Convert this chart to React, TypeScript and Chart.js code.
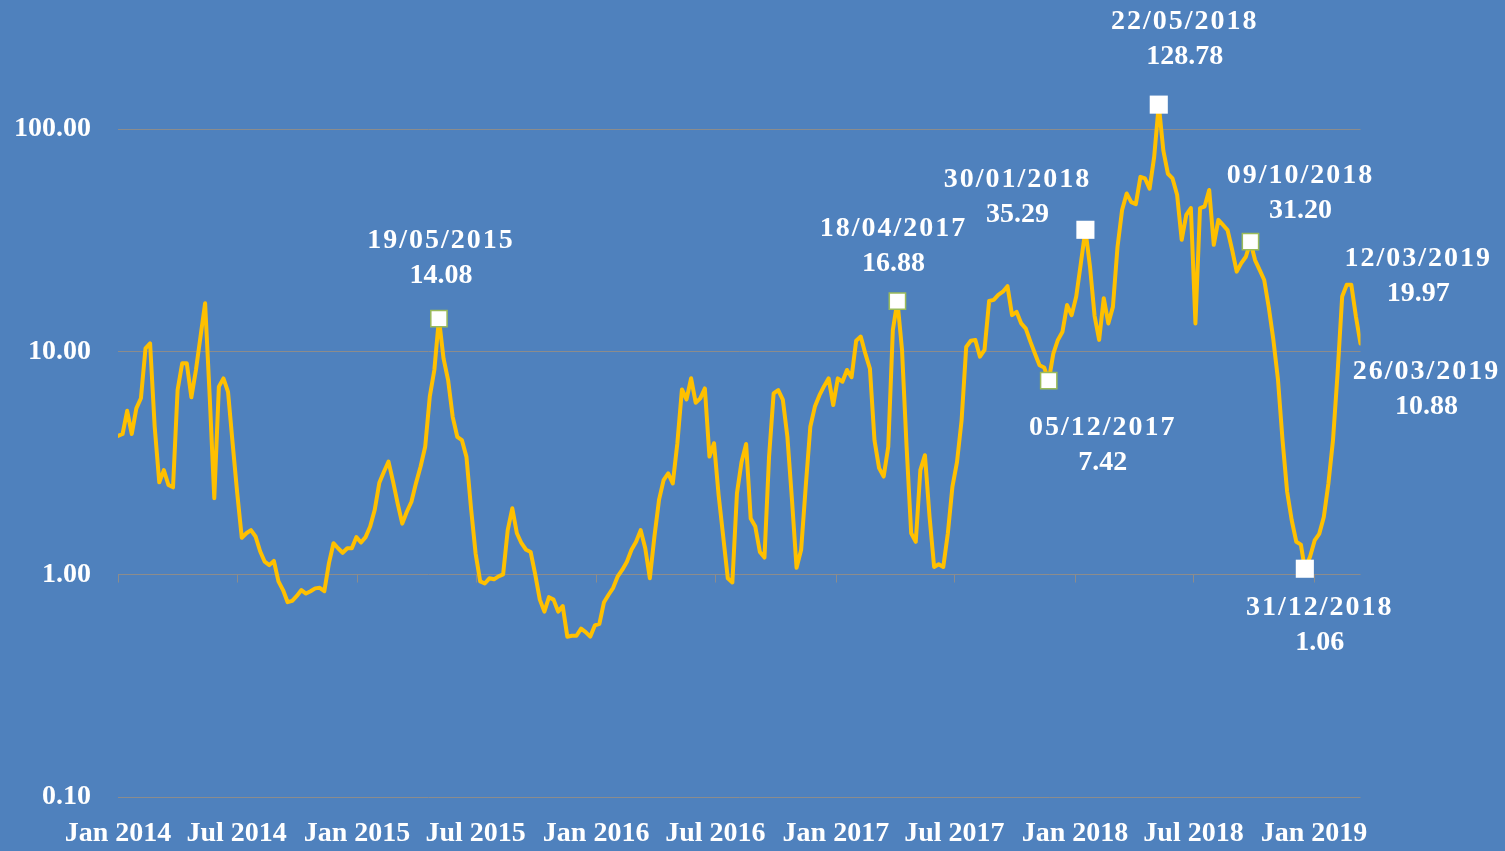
import React, { useEffect, useRef } from "react";
import { Chart, registerables } from "chart.js";

Chart.register(...registerables);

// ---------- DATA ----------
const dates2014 = ["2014-01-14","2014-01-21","2014-01-28","2014-02-04","2014-02-11","2014-02-18","2014-02-25","2014-03-04","2014-03-11","2014-03-18","2014-03-25","2014-04-01","2014-04-08","2014-04-15","2014-04-22","2014-04-29","2014-05-06","2014-05-13","2014-05-20","2014-05-27","2014-06-03","2014-06-10","2014-06-17","2014-06-24","2014-07-01","2014-07-08","2014-07-15","2014-07-22","2014-07-29","2014-08-05","2014-08-12","2014-08-19","2014-08-26","2014-09-02","2014-09-09","2014-09-16","2014-09-23","2014-09-30","2014-10-07","2014-10-14","2014-10-21","2014-10-28","2014-11-04","2014-11-11","2014-11-18","2014-11-25","2014-12-02","2014-12-09","2014-12-16","2014-12-23","2014-12-30"];
const values2014 = [4.19,4.27,5.43,4.27,5.57,6.18,10.35,10.9,4.61,2.59,2.94,2.52,2.46,6.73,8.87,8.87,6.24,8.28,11.7,16.5,6.3,2.2,6.97,7.59,6.6,3.88,2.32,1.46,1.53,1.58,1.48,1.27,1.14,1.10,1.15,0.93,0.85,0.75,0.76,0.80,0.85,0.82,0.84,0.865,0.87,0.84,1.12,1.38,1.31,1.25,1.31];

const dates2015 = ["2015-01-06","2015-01-13","2015-01-20","2015-01-27","2015-02-03","2015-02-10","2015-02-17","2015-02-24","2015-03-03","2015-03-10","2015-03-17","2015-03-24","2015-03-31","2015-04-07","2015-04-14","2015-04-21","2015-04-28","2015-05-05","2015-05-12","2015-05-19","2015-05-26","2015-06-02","2015-06-09","2015-06-16","2015-06-23","2015-06-30","2015-07-07","2015-07-14","2015-07-21","2015-07-28","2015-08-04","2015-08-11","2015-08-18","2015-08-25","2015-09-01","2015-09-08","2015-09-15","2015-09-22","2015-09-29","2015-10-06","2015-10-13","2015-10-20","2015-10-27","2015-11-03","2015-11-10","2015-11-17","2015-11-24","2015-12-01","2015-12-08","2015-12-15","2015-12-22","2015-12-29"];
const values2015 = [1.31,1.47,1.39,1.47,1.64,1.95,2.58,2.89,3.21,2.61,2.08,1.69,1.91,2.12,2.57,3.05,3.74,6.28,8.28,14.08,9.33,7.46,5.1,4.15,4.01,3.37,1.98,1.24,0.93,0.91,0.96,0.95,0.98,1.0,1.58,1.98,1.53,1.38,1.29,1.26,1.0,0.77,0.68,0.79,0.77,0.68,0.72,0.525,0.53,0.53,0.57,0.55];

const dates2016 = ["2016-01-05","2016-01-12","2016-01-19","2016-01-26","2016-02-02","2016-02-09","2016-02-16","2016-02-23","2016-03-01","2016-03-08","2016-03-15","2016-03-22","2016-03-29","2016-04-05","2016-04-12","2016-04-19","2016-04-26","2016-05-03","2016-05-10","2016-05-17","2016-05-24","2016-05-31","2016-06-07","2016-06-14","2016-06-21","2016-06-28","2016-07-05","2016-07-12","2016-07-19","2016-07-26","2016-08-02","2016-08-09","2016-08-16","2016-08-23","2016-08-30","2016-09-06","2016-09-13","2016-09-20","2016-09-27","2016-10-04","2016-10-11","2016-10-18","2016-10-25","2016-11-01","2016-11-08","2016-11-15","2016-11-22","2016-11-29","2016-12-06","2016-12-13","2016-12-20","2016-12-27"];
const values2016 = [0.525,0.59,0.60,0.75,0.81,0.87,0.98,1.05,1.14,1.29,1.40,1.58,1.31,0.96,1.48,2.16,2.65,2.84,2.56,3.88,6.77,6.11,7.6,5.9,6.17,6.84,3.38,3.88,2.27,1.48,0.96,0.92,2.31,3.2,3.85,1.78,1.64,1.26,1.19,3.37,6.5,6.73,6.1,4.15,2.16,1.07,1.29,2.48,4.6,5.67,6.38,7.0];

const dates2017 = ["2017-01-03","2017-01-10","2017-01-17","2017-01-24","2017-01-31","2017-02-07","2017-02-14","2017-02-21","2017-02-28","2017-03-07","2017-03-14","2017-03-21","2017-03-28","2017-04-04","2017-04-11","2017-04-18","2017-04-25","2017-05-02","2017-05-09","2017-05-16","2017-05-23","2017-05-30","2017-06-06","2017-06-13","2017-06-20","2017-06-27","2017-07-04","2017-07-11","2017-07-18","2017-07-25","2017-08-01","2017-08-08","2017-08-15","2017-08-22","2017-08-29","2017-09-05","2017-09-12","2017-09-19","2017-09-26","2017-10-03","2017-10-10","2017-10-17","2017-10-24","2017-10-31","2017-11-07","2017-11-14","2017-11-21","2017-11-28","2017-12-05","2017-12-12","2017-12-19","2017-12-26"];
const values2017 = [7.59,5.76,7.59,7.33,8.28,7.68,11.2,11.7,9.8,8.4,4.0,3.0,2.75,3.74,12.5,16.88,10.2,3.74,1.53,1.40,2.94,3.43,1.82,1.08,1.11,1.08,1.53,2.48,3.2,4.93,10.5,11.2,11.3,9.5,10.2,16.9,17.1,18.0,18.6,19.7,14.6,15.1,13.4,12.7,11.1,9.8,8.7,8.5,7.42,9.8,11.3,12.3];

const dates2018 = ["2018-01-02","2018-01-09","2018-01-16","2018-01-23","2018-01-30","2018-02-06","2018-02-13","2018-02-20","2018-02-27","2018-03-06","2018-03-13","2018-03-20","2018-03-27","2018-04-03","2018-04-10","2018-04-17","2018-04-24","2018-05-01","2018-05-08","2018-05-15","2018-05-22","2018-05-29","2018-06-05","2018-06-12","2018-06-19","2018-06-26","2018-07-03","2018-07-10","2018-07-17","2018-07-24","2018-07-31","2018-08-07","2018-08-14","2018-08-21","2018-08-28","2018-09-04","2018-09-11","2018-09-18","2018-09-25","2018-10-02","2018-10-09","2018-10-16","2018-10-23","2018-10-30","2018-11-06","2018-11-13","2018-11-20","2018-11-27","2018-12-04","2018-12-11","2018-12-18","2018-12-25","2018-12-31"];
const values2018 = [16.2,14.6,17.7,24.9,35.29,24.1,14.5,11.3,17.4,13.4,15.9,29.5,43.3,51.4,47,46,61,60,54,75,128.78,80,63,60,50.7,31.8,41.2,44.2,13.4,44.2,44.9,53.3,30.2,39.1,37.1,35.2,28.7,22.9,25,26.7,31.2,25.8,23.3,21,15.8,11.3,7.5,4.0,2.35,1.75,1.4,1.36,1.06];

const dates2019 = ["2019-01-08","2019-01-15","2019-01-22","2019-01-29","2019-02-05","2019-02-12","2019-02-19","2019-02-26","2019-03-05","2019-03-12","2019-03-19","2019-03-26"];
const values2019 = [1.2,1.42,1.52,1.81,2.56,4.0,8.0,17.7,20,19.97,14.4,10.88];

const allDates = [...dates2014, ...dates2015, ...dates2016, ...dates2017, ...dates2018, ...dates2019];
const allValues = [...values2014, ...values2015, ...values2016, ...values2017, ...values2018, ...values2019];

// axis ticks
const xTickDates = ["2014-01-14","2014-07-14","2015-01-14","2015-07-14","2016-01-14","2016-07-14","2017-01-14","2017-07-14","2018-01-14","2018-07-14","2019-01-14"];
const xTickLabels = ["Jan 2014","Jul 2014","Jan 2015","Jul 2015","Jan 2016","Jul 2016","Jan 2017","Jul 2017","Jan 2018","Jul 2018","Jan 2019"];
const yTicks = [0.1, 1, 10, 100];
const yMin = 0.1;
const yMax = 380;

// annotated points
const annotDates = ["2015-05-19","2017-04-18","2018-01-30","2018-05-22","2018-10-09","2019-03-12","2019-03-26","2017-12-05","2018-12-31"];
// label layout (offset of first text line centre from the point, in px)
const annotOffsets = [[2,-78],[-4,-72],[-68,-50],[26,-83],[50,-66],[67,-26],[66,28],[54,47],[15,39]];

// square markers
const markerDates = ["2015-05-19","2017-04-18","2017-12-05","2018-01-30","2018-05-22","2018-10-09","2018-12-31"];
const markerBordered = [true, true, true, false, false, true, false];

// ---------- STYLE ----------
const BG = "#4f81bd";
const LINE = "#ffc000";
const GRID = "#8c8c8c";
const FONT = "'Liberation Serif', 'Times New Roman', serif";

const toMs = (iso: string) => Date.parse(iso + "T00:00:00Z");
const fmtDate = (iso: string) => {
  const [y, m, d] = iso.split("-");
  return `${d}/${m}/${y}`;
};
const valueAt = (iso: string) => allValues[allDates.indexOf(iso)];

const bgPlugin = {
  id: "bg",
  beforeDraw(chart: any) {
    const ctx = chart.ctx;
    ctx.save();
    ctx.fillStyle = BG;
    ctx.fillRect(0, 0, chart.width, chart.height);
    ctx.restore();
  },
};

const tickMarkPlugin = {
  id: "tickmarks",
  beforeDatasetsDraw(chart: any) {
    const ctx = chart.ctx;
    const xs = chart.scales.x;
    const ys = chart.scales.y;
    const y1 = Math.round(ys.getPixelForValue(1)) + 0.5;
    ctx.save();
    ctx.strokeStyle = GRID;
    ctx.lineWidth = 1;
    ctx.beginPath();
    xTickDates.forEach((d) => {
      const x = Math.round(xs.getPixelForValue(toMs(d))) + 0.5;
      ctx.moveTo(x, y1);
      ctx.lineTo(x, y1 + 8);
    });
    ctx.stroke();
    ctx.restore();
  },
};

const annotPlugin = {
  id: "annot",
  afterDatasetsDraw(chart: any) {
    const ctx = chart.ctx;
    const xs = chart.scales.x;
    const ys = chart.scales.y;
    ctx.save();
    ctx.fillStyle = "#ffffff";
    ctx.textAlign = "center";
    ctx.textBaseline = "middle";
    ctx.font = `bold 28px ${FONT}`;
    annotDates.forEach((iso, i) => {
      const v = valueAt(iso);
      const px = xs.getPixelForValue(toMs(iso));
      const py = ys.getPixelForValue(v);
      const [dx, dy] = annotOffsets[i];
      (ctx as any).letterSpacing = "2px";
      ctx.fillText(fmtDate(iso), px + dx, py + dy);
      (ctx as any).letterSpacing = "0px";
      ctx.fillText(v.toFixed(2), px + dx, py + dy + 35);
    });
    ctx.restore();
  },
};

export default function App() {
  const ref = useRef<HTMLCanvasElement>(null);

  useEffect(() => {
    document.body.style.margin = "0";
    document.body.style.background = BG;
    const canvas = ref.current;
    if (!canvas) return;

    const lineData = allDates.map((d, i) => ({ x: toMs(d), y: allValues[i] }));
    const markerData = markerDates.map((d) => ({ x: toMs(d), y: valueAt(d) }));

    const chart = new Chart(canvas, {
      type: "line",
      data: {
        datasets: [
          {
            label: "markers",
            data: markerData,
            showLine: false,
            pointStyle: "rect",
            pointRadius: markerBordered.map((b) => (b ? 11.5 : 12.8)),
            pointHoverRadius: markerBordered.map((b) => (b ? 11.5 : 12.8)),
            pointBackgroundColor: "#ffffff",
            pointBorderColor: markerBordered.map((b) => (b ? "#9bbb59" : "#ffffff")),
            pointBorderWidth: markerBordered.map((b) => (b ? 1.5 : 0)),
            clip: false,
            order: 0,
          } as any,
          {
            label: "series",
            data: lineData,
            borderColor: LINE,
            backgroundColor: LINE,
            borderWidth: 4,
            pointRadius: 0,
            pointHoverRadius: 0,
            tension: 0,
            borderJoinStyle: "round",
            borderCapStyle: "round",
            fill: false,
            order: 1,
          } as any,
        ],
      },
      options: {
        animation: false,
        responsive: false,
        devicePixelRatio: 1,
        events: [],
        layout: { autoPadding: false, padding: { left: 0, right: 144.5, top: 0, bottom: 0 } },
        plugins: {
          legend: { display: false },
          tooltip: { enabled: false },
          title: { display: false },
        },
        scales: {
          x: {
            type: "linear",
            min: toMs(allDates[0]),
            max: toMs(allDates[allDates.length - 1]),
            afterBuildTicks: (s: any) => {
              s.ticks = xTickDates.map((d) => ({ value: toMs(d) }));
            },
            afterFit: (s: any) => {
              s.height = 54;
              s.paddingLeft = 0;
              s.paddingRight = 0;
            },
            grid: { display: false, drawTicks: false },
            border: { display: false },
            ticks: {
              color: "#ffffff",
              font: { family: FONT, size: 28, weight: "bold" },
              padding: 20,
              autoSkip: false,
              maxRotation: 0,
              minRotation: 0,
              callback: (_v: any, i: number) => xTickLabels[i],
            },
          },
          y: {
            type: "logarithmic",
            min: yMin,
            max: yMax,
            afterBuildTicks: (s: any) => {
              s.ticks = yTicks.map((v) => ({ value: v }));
            },
            afterFit: (s: any) => {
              s.width = 118;
              s.paddingTop = 0;
              s.paddingBottom = 0;
            },
            grid: { color: GRID, lineWidth: 1, drawTicks: false },
            border: { display: false },
            ticks: {
              color: "#ffffff",
              font: { family: FONT, size: 28, weight: "bold" },
              padding: 27,
              autoSkip: false,
              callback: (v: any) => Number(v).toFixed(2),
            },
          },
        },
      } as any,
      plugins: [bgPlugin, tickMarkPlugin, annotPlugin],
    });

    return () => chart.destroy();
  }, []);

  return (
    <div style={{ width: 1505, height: 851, background: BG }}>
      <canvas ref={ref} width={1505} height={851} style={{ display: "block" }} />
    </div>
  );
}
